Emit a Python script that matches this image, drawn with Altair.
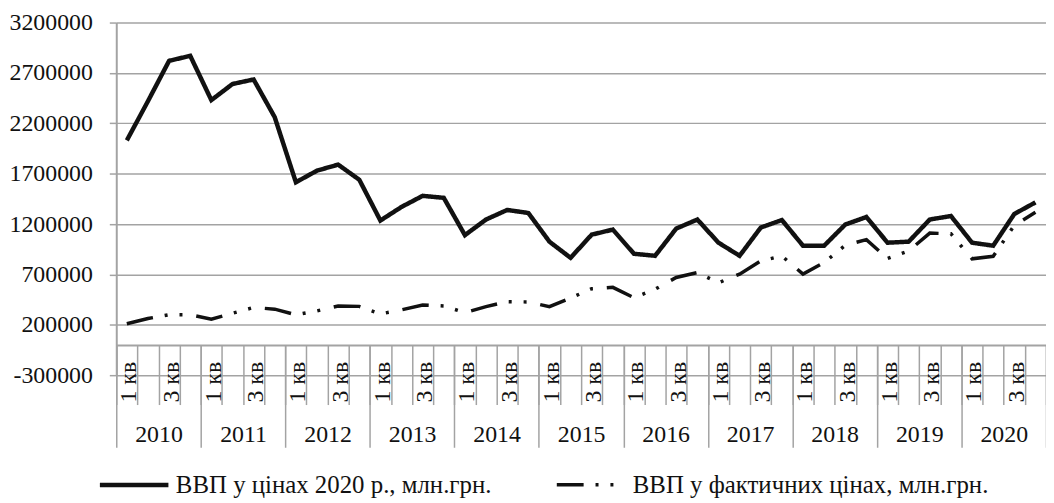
import altair as alt
import pandas as pd

# ---- data ----
years = ["2010", "2011", "2012", "2013", "2014", "2015", "2016", "2017", "2018", "2019", "2020"]
quarters = ["1 кв", "2 кв", "3 кв", "4 кв"]
series_names = ["ВВП у цінах 2020 р., млн.грн.", "ВВП у фактичних цінах, млн.грн."]

real_gdp = [
    2030000, 2420000, 2820000, 2870000,
    2430000, 2590000, 2635000, 2260000,
    1615000, 1730000, 1790000, 1640000,
    1235000, 1370000, 1480000, 1460000,
    1090000, 1245000, 1340000, 1310000,
    1025000, 865000, 1095000, 1145000,
    905000, 885000, 1155000, 1245000,
    1015000, 885000, 1165000, 1240000,
    985000, 985000, 1195000, 1270000,
    1015000, 1025000, 1245000, 1280000,
    1015000, 985000, 1300000, 1415000,
]
nominal_gdp = [
    210000, 262000, 300000, 300000,
    256000, 315000, 372000, 355000,
    299000, 338000, 387000, 383000,
    308000, 348000, 397000, 387000,
    321000, 380000, 430000, 427000,
    380000, 466000, 558000, 572000,
    469000, 553000, 670000, 719000,
    617000, 703000, 834000, 883000,
    703000, 818000, 989000, 1045000,
    858000, 933000, 1110000, 1104000,
    855000, 880000, 1186000, 1317000,
]
y_ticks = [-300000, 200000, 700000, 1200000, 1700000, 2200000, 2700000, 3200000]

rows = []
n = len(years) * len(quarters)
for i in range(n):
    rows.append({"pos": i + 0.5, "year": years[i // 4], "quarter": quarters[i % 4],
                 "series": series_names[0], "value": real_gdp[i]})
    rows.append({"pos": i + 0.5, "year": years[i // 4], "quarter": quarters[i % 4],
                 "series": series_names[1], "value": nominal_gdp[i]})
df = pd.DataFrame(rows)
axis_df = df[df["series"] == series_names[0]]

# ---- style ----
W, H = 936, 355
FONT = "Liberation Serif, Times New Roman, serif"
GREY = "#a3a3a3"
INK = "#111111"
YMIN, YMAX = -300000, 3200000
zero_offset = -H * (0 - YMIN) / (YMAX - YMIN)  # move category axis up to y = 0

xscale = alt.Scale(domain=[0, n], nice=False, zero=False)

common_axis = dict(orient="bottom", title=None, grid=False, offset=zero_offset,
                   labelFont=FONT, labelFontSize=24, labelColor=INK,
                   labelOverlap=False, labelFlush=False, labelBound=False)

# quarter dividers + horizontal axis line
q_ticks = alt.Chart(axis_df).mark_point(opacity=0, size=0).encode(
    x=alt.X("pos:Q", scale=xscale, axis=alt.Axis(
        values=list(range(n + 1)), labels=False, ticks=True, tickSize=60,
        tickColor=GREY, tickWidth=1.5, domain=True, domainColor=GREY, domainWidth=2,
        **common_axis)))

# quarter labels (1 кв, 3 кв)
q_expr = "(floor(datum.value) %% 4 == 0) ? '%s' : '%s'" % (quarters[0], quarters[2])
q_labels = alt.Chart(axis_df).mark_point(opacity=0, size=0).encode(
    x=alt.X("pos:Q", scale=xscale, axis=alt.Axis(
        values=[i + 0.5 for i in range(n) if i % 4 in (0, 2)], labelExpr=q_expr,
        labelAngle=270, labelAlign="right", labelBaseline="middle",
        labelPadding=16.5, labelOffset=2, ticks=False, tickSize=0, domain=False,
        **common_axis)))

# year dividers
y_div = alt.Chart(axis_df).mark_point(opacity=0, size=0).encode(
    x=alt.X("pos:Q", scale=xscale, axis=alt.Axis(
        values=list(range(0, n + 1, 4)), labels=False, ticks=True, tickSize=103,
        tickColor=GREY, tickWidth=1.5, domain=False, **common_axis)))

# year labels
yr_expr = "[" + ",".join("'" + y + "'" for y in years) + "][floor(datum.value / 4)]"
y_labels = alt.Chart(axis_df).mark_point(opacity=0, size=0).encode(
    x=alt.X("pos:Q", scale=xscale, axis=alt.Axis(
        values=[4 * k + 2 for k in range(len(years))], labelExpr=yr_expr,
        labelAlign="center", labelBaseline="top", labelPadding=78.4,
        ticks=False, tickSize=0, domain=False, **common_axis)))

lines = alt.Chart(df).mark_line(strokeCap="butt", strokeJoin="miter").encode(
    x=alt.X("pos:Q", scale=xscale, axis=None),
    y=alt.Y("value:Q", scale=alt.Scale(domain=[YMIN, YMAX], nice=False, zero=False),
            axis=alt.Axis(values=y_ticks, labelExpr="'' + datum.value", title=None,
                          grid=True, gridColor=GREY, gridWidth=1.5,
                          domain=True, domainColor=GREY, domainWidth=2,
                          ticks=True, tickSize=7, tickColor=GREY, tickWidth=1.5,
                          labelPadding=17, labelFont=FONT, labelFontSize=24,
                          labelColor=INK)),
    strokeDash=alt.StrokeDash("series:N",
        scale=alt.Scale(domain=series_names, range=[[1, 0], [27, 12, 3, 12, 3, 14]]),
        legend=alt.Legend(orient="none", legendX=-19, legendY=428.5,
                          direction="horizontal", columns=2, title=None,
                          symbolType="stroke", symbolSize=4761,
                          symbolStrokeWidth=4.5, symbolStrokeColor=INK,
                          labelFont=FONT, labelFontSize=25, labelColor=INK,
                          labelLimit=900, labelOffset=5, columnPadding=58,
                          padding=0, symbolOffset=0)),
    strokeWidth=alt.StrokeWidth("series:N",
        scale=alt.Scale(domain=series_names, range=[4.5, 3.5]), legend=None),
    color=alt.value(INK),
)

chart = alt.layer(q_ticks, y_div, q_labels, y_labels, lines).resolve_axis(
    x="independent"
).properties(
    width=W, height=H,
    padding={"left": 109, "top": 13, "right": 0, "bottom": 122},
    autosize=alt.AutoSizeParams(type="none"),
    background="white",
).configure_view(stroke=None)

chart.save("out.html", embed_options={"renderer": "svg", "actions": False})
